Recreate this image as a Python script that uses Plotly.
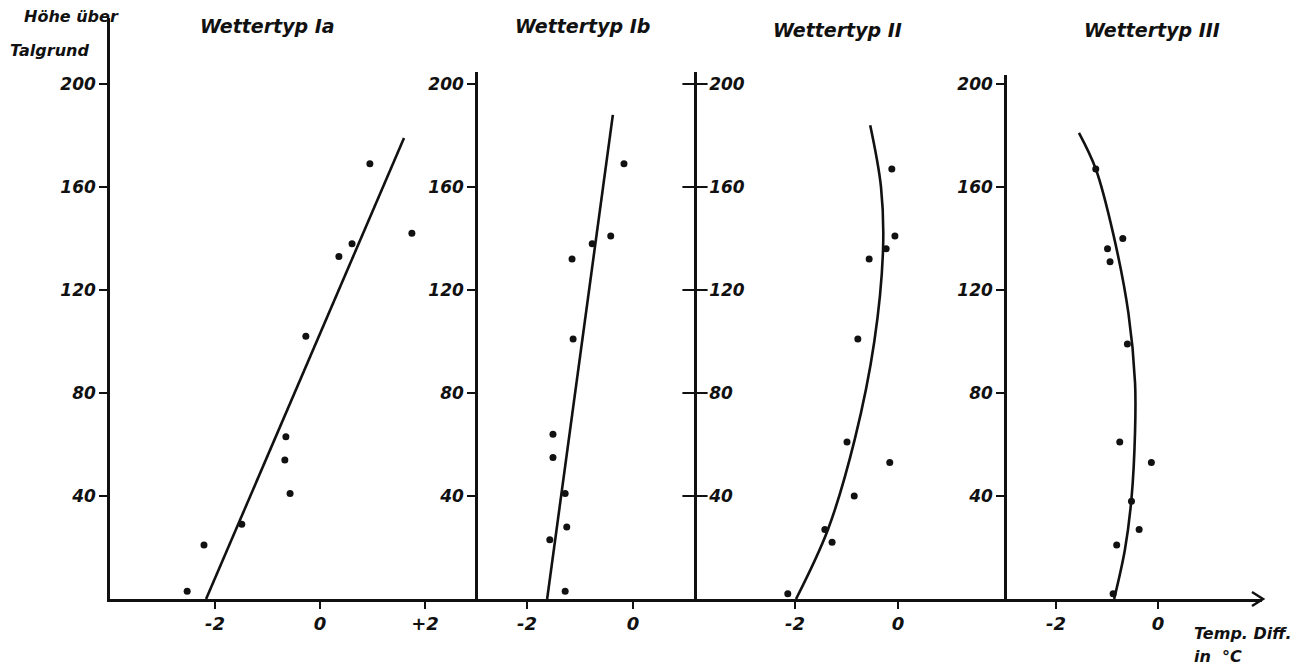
import plotly.graph_objects as go

# ---- data: temperature difference (°C) vs height above valley floor (m) ----
titles = ["Wettertyp Ia", "Wettertyp Ib", "Wettertyp II", "Wettertyp III"]

# observed points
ia_temp = [0.95, 1.75, 0.61, 0.36, -0.27, -0.65, -0.67, -0.57, -1.49, -2.21, -2.53]
ia_hgt = [169, 142, 138, 133, 102, 63, 54, 41, 29, 21, 3]
ib_temp = [-0.17, -0.42, -0.77, -1.15, -1.13, -1.51, -1.51, -1.28, -1.25, -1.57, -1.28]
ib_hgt = [169, 141, 138, 132, 101, 64, 55, 41, 28, 23, 3]
ii_temp = [-0.12, -0.06, -0.23, -0.56, -0.78, -0.99, -0.16, -0.85, -1.42, -1.28, -2.14]
ii_hgt = [167, 141, 136, 132, 101, 61, 53, 40, 27, 22, 2]
iii_temp = [-1.22, -0.69, -0.99, -0.94, -0.60, -0.75, -0.13, -0.52, -0.37, -0.81, -0.88]
iii_hgt = [167, 140, 136, 131, 99, 61, 53, 38, 27, 21, 2]

# fitted profiles
ia_fit_temp = [-2.17, 1.60]
ia_fit_hgt = [0, 179]
ib_fit_temp = [-1.62, -0.38]
ib_fit_hgt = [0, 188]
ii_fit_temp = [-1.98, -1.36, -0.84, -0.46, -0.29, -0.33, -0.54]
ii_fit_hgt = [0, 27, 62, 100, 136, 160, 184]
iii_fit_temp = [-0.86, -0.65, -0.52, -0.45, -0.45, -0.58, -0.88, -1.22, -1.55]
iii_fit_hgt = [0, 19, 39, 65, 84, 111, 142, 167, 181]

y_ticks = [40, 80, 120, 160, 200]
x_ticks = [[-2, 0, 2], [-2, 0], [-2, 0], [-2, 0]]
x_ticktext = [["-2", "0", "+2"], ["-2", "0"], ["-2", "0"], ["-2", "0"]]

points = [(ia_temp, ia_hgt), (ib_temp, ib_hgt), (ii_temp, ii_hgt), (iii_temp, iii_hgt)]
fits = [(ia_fit_temp, ia_fit_hgt, "linear"), (ib_fit_temp, ib_fit_hgt, "linear"),
        (ii_fit_temp, ii_fit_hgt, "spline"), (iii_fit_temp, iii_fit_hgt, "spline")]

# ---- page geometry (pixels) ----
W, H = 1303, 668
BASE = 599            # baseline (height 0)
PX_PER_M = 2.575      # vertical scale
panel_left = [110, 478, 695, 1007]
panel_right = [478, 695, 1007, 1262]
zero_px = [320, 633, 898, 1158]
px_per_deg = [52.5, 53.0, 51.5, 51.0]
axis_top = [18, 72, 72, 75]
title_x = [267, 582, 837, 1152]
title_y = [26, 26, 30, 30]

FONT = "DejaVu Sans"
INK = "#111111"


def fx(px):
    return px / W


def fy(py):
    return (H - py) / H


def lettering(size):
    return dict(family=FONT, size=size, color=INK, style="italic", weight="bold")


fig = go.Figure()
layout = dict(
    width=W, height=H, margin=dict(l=0, r=0, t=0, b=0),
    paper_bgcolor="white", plot_bgcolor="rgba(0,0,0,0)",
    showlegend=False, font=lettering(17),
)

for i in range(4):
    n = "" if i == 0 else str(i + 1)
    xr = [(panel_left[i] - zero_px[i]) / px_per_deg[i],
          (panel_right[i] - zero_px[i]) / px_per_deg[i]]
    yr = [0, (BASE - axis_top[i]) / PX_PER_M]
    layout["xaxis" + n] = dict(
        domain=[fx(panel_left[i]), fx(panel_right[i])], range=xr, anchor="y" + n,
        showline=True, linecolor=INK, linewidth=2.5, showgrid=False, zeroline=False,
        ticks="outside", ticklen=7, tickwidth=2, tickcolor=INK,
        tickvals=x_ticks[i], ticktext=x_ticktext[i],
        tickfont=lettering(18), fixedrange=True,
    )
    ycfg = dict(
        domain=[fy(BASE), fy(axis_top[i])], range=yr,
        showline=True, linecolor=INK, linewidth=2.5, showgrid=False, zeroline=False,
        ticks="outside", ticklen=8, tickwidth=2, tickcolor=INK, tickvals=y_ticks,
        tickfont=lettering(17), fixedrange=True,
    )
    if i == 2:
        # middle axis: labels on the right, ticks crossing the line
        ycfg.update(anchor="free", position=fx(panel_left[i]), side="right", ticklen=9)
    else:
        ycfg.update(anchor="x" + n)
    layout["yaxis" + n] = ycfg

    xs, ys = points[i]
    fig.add_trace(go.Scatter(x=xs, y=ys, mode="markers", xaxis="x" + n, yaxis="y" + n,
                             marker=dict(color=INK, size=7), cliponaxis=False))
    fx_, fy_, shp = fits[i]
    fig.add_trace(go.Scatter(x=fx_, y=fy_, mode="lines", xaxis="x" + n, yaxis="y" + n,
                             line=dict(color=INK, width=2.6, shape=shp, smoothing=1.0),
                             cliponaxis=False))

# left half of the crossing ticks on the third axis
x3_min = (panel_left[2] - zero_px[2]) / px_per_deg[2]
fig.add_trace(go.Scatter(x=[x3_min] * len(y_ticks), y=y_ticks, mode="markers",
                         xaxis="x3", yaxis="y3", cliponaxis=False,
                         marker=dict(symbol="line-ew", size=18, line=dict(color=INK, width=2))))

fig.update_layout(**layout)

annotations = []
for i, t in enumerate(titles):
    annotations.append(dict(text=t, x=fx(title_x[i]), y=fy(title_y[i]), xref="paper",
                            yref="paper", showarrow=False, xanchor="center", yanchor="middle",
                            font=lettering(19)))
annotations += [
    dict(text="Höhe über", x=fx(121), y=fy(17), xref="paper", yref="paper", showarrow=False,
         xanchor="right", yanchor="middle", font=lettering(16)),
    dict(text="Talgrund", x=fx(8), y=fy(51), xref="paper", yref="paper", showarrow=False,
         xanchor="left", yanchor="middle", font=lettering(16)),
    dict(text="Temp. Diff.", x=fx(1192), y=fy(633), xref="paper", yref="paper",
         showarrow=False, xanchor="left", yanchor="middle", font=lettering(16)),
    dict(text="in  °C", x=fx(1192), y=fy(656), xref="paper", yref="paper",
         showarrow=False, xanchor="left", yanchor="middle", font=lettering(16)),
]
fig.update_layout(annotations=annotations)

# arrow head at the end of the temperature axis
ax_end = panel_right[3] + 1
fig.add_shape(type="path", xref="paper", yref="paper",
              path=f"M {fx(ax_end - 11)},{fy(BASE - 7)} L {fx(ax_end)},{fy(BASE)} "
                   f"L {fx(ax_end - 11)},{fy(BASE + 7)}",
              line=dict(color=INK, width=2.5))

fig.write_html("out.html")
